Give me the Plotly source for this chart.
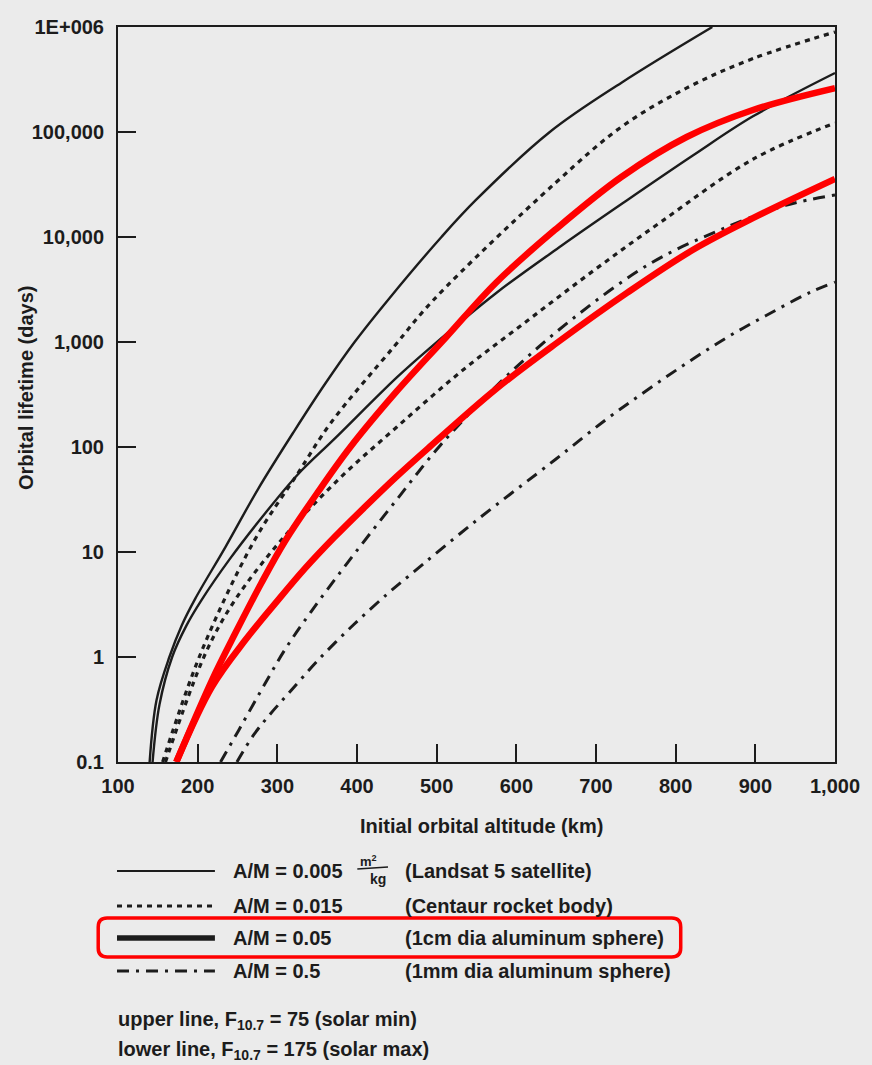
import plotly.graph_objects as go

# ---- data: initial altitude (km) vs orbital lifetime (days) ----
# A/M = 0.005 m^2/kg (Landsat 5)
alt_005_min = [139.7, 148.4, 164.5, 180, 197, 235, 276, 321, 360, 397, 441, 506, 549, 642, 732, 846]
life_005_min = [0.1, 0.39, 1.0, 2.0, 3.6, 11.2, 40, 141, 400, 1000, 2630, 10000, 22400, 100000, 295000, 1000000]
alt_005_max = [143.4, 152, 168, 186, 205, 240, 285, 326, 372, 450, 491, 574, 657, 739, 822, 897, 1000]
life_005_max = [0.1, 0.35, 1.0, 2.0, 3.5, 8.5, 23.5, 55, 120, 460, 870, 2900, 8300, 22400, 60000, 141000, 365000]

# A/M = 0.015 (Centaur rocket body)
alt_015_min = [156, 204, 270, 326, 367, 446, 496, 649, 732, 814, 897, 1000]
life_015_min = [0.1, 1.09, 12.4, 56.5, 169, 896, 2513, 32700, 112000, 263000, 500000, 896000]
alt_015_max = [159.6, 210, 247, 305, 376, 450, 533, 615, 698, 782, 897, 1000]
life_015_max = [0.1, 1.09, 3.5, 13, 48.5, 155, 541, 1620, 4850, 14000, 55000, 122000]

# A/M = 0.05 (1 cm aluminum sphere)
alt_05_min = [173.2, 217.9, 247.3, 280, 309.4, 350.7, 391.7, 450, 512.1, 574.2, 648.6, 731.8, 813.8, 896.9, 1000]
life_05_min = [0.1, 0.6, 1.69, 5.07, 12.6, 37, 100, 340, 1115, 3650, 11700, 37300, 89600, 162000, 262000]
alt_05_max = [173.2, 217.9, 259.8, 301.1, 334.2, 371.5, 408.7, 450, 491, 574.2, 652.4, 739.3, 822.4, 896.9, 1000]
life_05_max = [0.1, 0.52, 1.45, 3.5, 6.9, 13.8, 26.3, 52.5, 100, 355, 1000, 2950, 7600, 15100, 35700]

# A/M = 0.5 (1 mm aluminum sphere)
alt_5_min = [228.7, 251.4, 280, 309.4, 342, 379.3, 404.1, 450, 504.7, 586.6, 673.5, 769.1, 856, 938, 1000]
life_5_min = [0.1, 0.2, 0.485, 1.17, 2.68, 6.45, 11.35, 31.6, 104, 464, 1730, 5650, 11700, 20000, 25100]
alt_5_max = [249.3, 270, 290, 314, 351, 396, 438, 466, 550, 649, 714, 764, 814, 864, 913, 968, 1000]
life_5_max = [0.1, 0.18, 0.28, 0.45, 0.93, 2.04, 3.98, 6.0, 20, 76, 186, 347, 630, 1100, 1780, 2950, 3720]

x_ticks = [100, 200, 300, 400, 500, 600, 700, 800, 900, 1000]
x_ticktext = ["100", "200", "300", "400", "500", "600", "700", "800", "900", "1,000"]
y_ticks = [0.1, 1, 10, 100, 1000, 10000, 100000, 1000000]
y_ticktext = ["0.1", "1", "10", "100", "1,000", "10,000", "100,000", "1E+006"]

# ---- page geometry (pixels) ----
W, H = 872, 1065
L, R, T, B = 118, 843, 27, 762

def px(x):
    return (x - L) / (R - L)

def py(y):
    return (B - y) / (B - T)

INK = "#1c1c1c"
RED = "#ff0000"
BG = "#ebebeb"
FONT = "Liberation Sans, Arial, sans-serif"
DOT = "5px,5px"
DASHDOT = "12px,7px,3px,7px"

fig = go.Figure()

def add_curve(x, y, color, width, dash):
    fig.add_trace(go.Scatter(
        x=x, y=y, mode="lines",
        line=dict(color=color, width=width, dash=dash, shape="spline", smoothing=1.0),
        hoverinfo="skip", showlegend=False))

add_curve(alt_005_min, life_005_min, INK, 2.4, "solid")
add_curve(alt_005_max, life_005_max, INK, 2.4, "solid")
add_curve(alt_015_min, life_015_min, INK, 3.2, DOT)
add_curve(alt_015_max, life_015_max, INK, 3.2, DOT)
add_curve(alt_5_min, life_5_min, INK, 3.0, DASHDOT)
add_curve(alt_5_max, life_5_max, INK, 3.0, DASHDOT)
add_curve(alt_05_min, life_05_min, RED, 6.5, "solid")
add_curve(alt_05_max, life_05_max, RED, 6.5, "solid")

tick_font = dict(family=FONT, size=20, color=INK, weight="bold")

fig.update_layout(
    width=W, height=H,
    margin=dict(l=L, r=W - R, t=T, b=H - B, pad=0),
    paper_bgcolor=BG, plot_bgcolor=BG,
    xaxis=dict(
        range=[100, 1000], tickvals=x_ticks, ticktext=x_ticktext,
        ticks="inside", ticklen=18, tickwidth=2, tickcolor=INK,
        showline=True, linecolor=INK, linewidth=2, mirror=True,
        showgrid=False, zeroline=False, tickfont=tick_font,
        ticklabelstandoff=5,
    ),
    yaxis=dict(
        type="log", range=[-1, 6], tickvals=y_ticks, ticktext=y_ticktext,
        ticks="inside", ticklen=18, tickwidth=2, tickcolor=INK,
        showline=True, linecolor=INK, linewidth=2, mirror=True,
        showgrid=False, zeroline=False, tickfont=tick_font,
        ticklabelstandoff=8,
    ),
)

text_font = dict(family=FONT, size=20, color=INK, weight="bold")
annotations = []

def label(x, y, text, anchor="left", size=20, angle=0):
    f = dict(text_font)
    f["size"] = size
    annotations.append(dict(
        x=px(x), y=py(y), xref="paper", yref="paper", text=text,
        showarrow=False, xanchor=anchor, yanchor="middle",
        font=f, textangle=angle))

# axis titles
label(486, 826, "Initial orbital altitude (km)", anchor="center")
label(25, 388, "Orbital lifetime (days)", anchor="center", angle=-90)

# legend rows
rows = [
    (871, "A/M = 0.005", "(Landsat 5 satellite)", INK, 2.2, "solid"),
    (906, "A/M = 0.015", "(Centaur rocket body)", INK, 3.2, DOT),
    (938, "A/M = 0.05", "(1cm dia aluminum sphere)", INK, 5.5, "solid"),
    (971, "A/M = 0.5", "(1mm dia aluminum sphere)", INK, 3.0, DASHDOT),
]
shapes = []
for yrow, am, desc, color, width, dash in rows:
    shapes.append(dict(type="line", xref="paper", yref="paper",
                       x0=px(117), x1=px(216), y0=py(yrow), y1=py(yrow),
                       line=dict(color=color, width=width, dash=dash)))
    label(232, yrow, am)
    label(406, yrow, desc)

# unit fraction m^2/kg after the first A/M value
label(371, 861, "m<sup>2</sup>", anchor="center", size=13)
label(381, 879, "kg", anchor="center", size=14)
shapes.append(dict(type="line", xref="paper", yref="paper",
                   x0=px(360), x1=px(391), y0=py(869), y1=py(867),
                   line=dict(color=INK, width=1.5)))

# solar activity notes
label(116, 1020, "upper line, F<sub>10.7</sub> = 75 (solar min)")
label(116, 1050, "lower line, F<sub>10.7</sub> = 175 (solar max)")

# rounded highlight box around the A/M = 0.05 entry
bx0, bx1, by0, by1, r = 98, 687, 918, 957, 9
def P(x, y):
    return f"{px(x):.5f},{py(y):.5f}"
path = (f"M {P(bx0 + r, by0)} L {P(bx1 - r, by0)} Q {P(bx1, by0)} {P(bx1, by0 + r)} "
        f"L {P(bx1, by1 - r)} Q {P(bx1, by1)} {P(bx1 - r, by1)} "
        f"L {P(bx0 + r, by1)} Q {P(bx0, by1)} {P(bx0, by1 - r)} "
        f"L {P(bx0, by0 + r)} Q {P(bx0, by0)} {P(bx0 + r, by0)} Z")
shapes.append(dict(type="path", xref="paper", yref="paper", path=path,
                   line=dict(color=RED, width=3.5), fillcolor="rgba(0,0,0,0)"))

fig.update_layout(annotations=annotations, shapes=shapes)
fig.write_html("out.html")
